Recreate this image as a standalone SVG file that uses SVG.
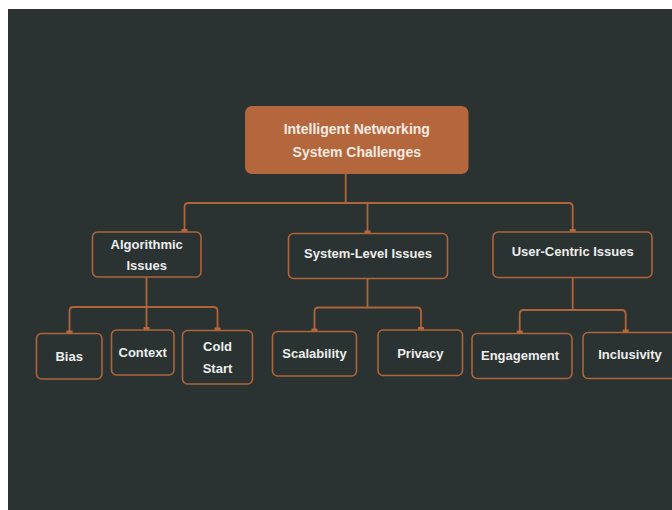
<svg xmlns="http://www.w3.org/2000/svg" width="672" height="510" viewBox="0 0 672 510">
<defs>
<style>
.bg{fill:#2a3232}
.box{fill:#2a3232;stroke:#b0643a;stroke-width:1.6}
.root{fill:#b4673c}
.t{font-family:"Liberation Sans",Arial,sans-serif;font-weight:bold;font-size:13px;fill:#eeeeec;text-anchor:middle;dominant-baseline:central}
.rt{font-size:14px;fill:#f5ebe2}
.c{fill:none;stroke:#b0643a;stroke-width:1.8}
.dot{fill:#b8693c}
</style>
</defs>
<rect x="0" y="0" width="672" height="510" fill="#ffffff"/>
<rect class="bg" x="8" y="9" width="664" height="501"/>
<g id="connectors">
<path class="c" d="M345.7,174 V203"/>
<path class="c" d="M184.5,232 V207 Q184.5,203 188.5,203 H568.7 Q572.7,203 572.7,207 V232"/>
<path class="c" d="M367.5,203 V233.5"/>
<path class="c" d="M146.5,277 V330"/>
<path class="c" d="M69.5,333.5 V311 Q69.5,307 73.5,307 H213.5 Q217.5,307 217.5,311 V330.5"/>
<path class="c" d="M367.5,278.5 V307.5"/>
<path class="c" d="M314.5,331.5 V311.5 Q314.5,307.5 318.5,307.5 H417 Q421,307.5 421,311.5 V330"/>
<path class="c" d="M572.7,277.5 V310"/>
<path class="c" d="M519.7,333.5 V314 Q519.7,310 523.7,310 H621.7 Q625.7,310 625.7,314 V332.5"/>
<rect class="dot" x="181.5" y="229" width="6" height="6"/>
<rect class="dot" x="364.5" y="230.5" width="6" height="6"/>
<rect class="dot" x="569.7" y="229" width="6" height="6"/>
<rect class="dot" x="66.5" y="330.5" width="6" height="6"/>
<rect class="dot" x="143.5" y="327" width="6" height="6"/>
<rect class="dot" x="214.5" y="327.5" width="6" height="6"/>
<rect class="dot" x="311.5" y="328.5" width="6" height="6"/>
<rect class="dot" x="418" y="327" width="6" height="6"/>
<rect class="dot" x="516.7" y="330.5" width="6" height="6"/>
<rect class="dot" x="622.7" y="329.5" width="6" height="6"/>
</g>
<g id="root">
<rect class="root" x="245" y="106" width="223.5" height="68" rx="7"/>
<text class="t rt" x="356.8" y="129">Intelligent Networking</text>
<text class="t rt" x="356.8" y="151.5">System Challenges</text>
</g>
<g id="algorithmic">
<rect class="box" x="92.5" y="232" width="108.5" height="45" rx="5"/>
<text class="t" x="146.7" y="244">Algorithmic</text>
<text class="t" x="146.7" y="265.5">Issues</text>
</g>
<g id="system">
<rect class="box" x="288.5" y="233.5" width="159" height="45" rx="5"/>
<text class="t" x="368" y="253.3">System-Level Issues</text>
</g>
<g id="user">
<rect class="box" x="493" y="232" width="159" height="45.5" rx="5"/>
<text class="t" x="572.7" y="251.7">User-Centric Issues</text>
</g>
<g id="bias">
<rect class="box" x="36.5" y="333.5" width="65.5" height="45.5" rx="5"/>
<text class="t" x="69.2" y="356.5">Bias</text>
</g>
<g id="context">
<rect class="box" x="111.5" y="330" width="62.5" height="45" rx="5"/>
<text class="t" x="142.7" y="352.7">Context</text>
</g>
<g id="coldstart">
<rect class="box" x="182.5" y="330.5" width="70" height="53.5" rx="5"/>
<text class="t" x="217.5" y="346.5">Cold</text>
<text class="t" x="217.5" y="368">Start</text>
</g>
<g id="scalability">
<rect class="box" x="272.5" y="331.5" width="84" height="44.5" rx="5"/>
<text class="t" x="314.5" y="353.3">Scalability</text>
</g>
<g id="privacy">
<rect class="box" x="378" y="330" width="84.5" height="45.5" rx="5"/>
<text class="t" x="420.3" y="353">Privacy</text>
</g>
<g id="engagement">
<rect class="box" x="472" y="333.5" width="100" height="45" rx="5"/>
<text class="t" x="520" y="355.7">Engagement</text>
</g>
<g id="inclusivity">
<rect class="box" x="583" y="332.5" width="100" height="46" rx="5"/>
<text class="t" x="630" y="354">Inclusivity</text>
</g>
</svg>
